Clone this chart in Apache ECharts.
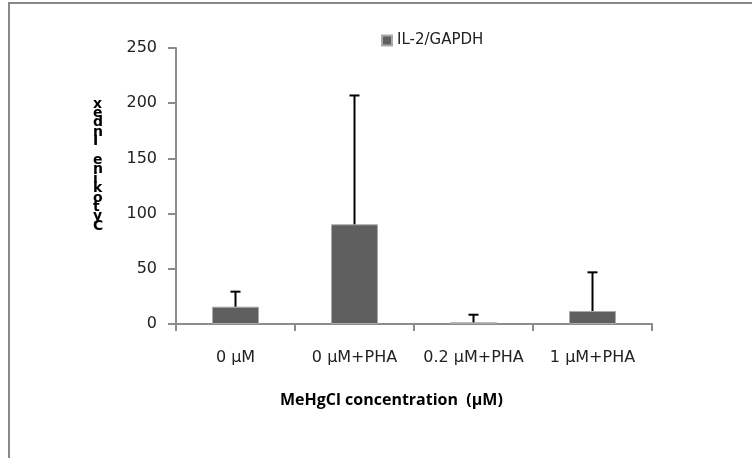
<!DOCTYPE html>
<html lang="en">
<head>
    <meta charset="UTF-8">
    <title>IL-2/GAPDH</title>
    <script src="https://cdn.jsdelivr.net/npm/echarts@6/dist/echarts.min.js"></script>
    <style>
        html, body {margin: 0; padding: 0; background: #fff;}
        #chart {width: 752px; height: 458px;}
    </style>
</head>
<body>
<div id="chart"></div>
<script>
    // data
    var categories = ['0 \u03bcM', '0 \u03bcM+PHA', '0.2 \u03bcM+PHA', '1 \u03bcM+PHA'];
    var il2Values = [15.7, 90.3, 1.5, 11.8];
    var il2Errors = [13.6, 116.7, 6.9, 35];
    var yTicks = {min: 0, max: 250, interval: 50};

    var font = '"DejaVu Sans", "Open Sans", sans-serif';
    var axisGray = '#8c8c8c';

    // error bar data: [index, value, error]
    var errData = [];
    for (var i = 0; i < il2Values.length; i++) {
        errData.push([i, il2Values[i], il2Errors[i]]);
    }

    var chart = echarts.init(document.getElementById('chart'));
    var option = {
        backgroundColor: '#fff',
        animation: false,
        grid: {left: 176, right: 100, top: 48, bottom: 134},
        legend: {
            data: ['IL-2/GAPDH'],
            left: 376, top: 28,
            icon: 'rect', itemWidth: 10, itemHeight: 10, itemGap: 4,
            textStyle: {fontFamily: font, fontSize: 15, color: '#222'}
        },
        xAxis: {
            type: 'category',
            data: categories,
            axisLine: {lineStyle: {color: axisGray, width: 2}},
            axisTick: {show: true, length: 7, lineStyle: {color: axisGray, width: 2}},
            axisLabel: {interval: 0, hideOverlap: false, margin: 26, fontFamily: font, fontSize: 16, color: '#222'}
        },
        yAxis: {
            type: 'value',
            min: yTicks.min, max: yTicks.max, interval: yTicks.interval,
            axisLine: {show: true, lineStyle: {color: axisGray, width: 2}},
            axisTick: {show: true, length: 8, lineStyle: {color: axisGray, width: 2}},
            axisLabel: {margin: 19, fontFamily: font, fontSize: 16, color: '#222'},
            splitLine: {show: false}
        },
        graphic: [
            {
                type: 'rect', silent: true,
                shape: {x: 9, y: 3, width: 800, height: 500},
                style: {fill: 'none', stroke: '#888', lineWidth: 2}
            },
            {
                // y axis name, letters stacked and reversed as in the picture
                type: 'text', left: 93, top: 97,
                style: {
                    text: 'Cytokine Index'.split('').reverse().join('\n'),
                    fontFamily: font, fontSize: 14, fontWeight: 'bold',
                    lineHeight: 9.4, fill: '#000', align: 'center'
                }
            },
            {
                type: 'text', left: 280, top: 392,
                style: {
                    text: 'MeHgCl concentration  (\u03bcM)',
                    fontFamily: '"Open Sans", sans-serif', fontSize: 16, fontWeight: 'bold', fill: '#000'
                }
            }
        ],
        series: [
            {
                name: 'IL-2/GAPDH',
                type: 'bar',
                barWidth: 47,
                itemStyle: {color: '#5f5f5f', borderColor: '#aaaaaa', borderWidth: 1},
                data: il2Values
            },
            {
                name: 'err',
                type: 'custom',
                z: 3,
                data: errData,
                renderItem: function (params, api) {
                    var idx = api.value(0);
                    var v = api.value(1);
                    var e = api.value(2);
                    var p0 = api.coord([idx, v]);
                    var p1 = api.coord([idx, v + e]);
                    var cap = 5;
                    var st = {stroke: '#000', lineWidth: 2};
                    return {
                        type: 'group',
                        children: [
                            {type: 'line', shape: {x1: p0[0], y1: p0[1], x2: p1[0], y2: p1[1]}, style: st},
                            {type: 'line', shape: {x1: p1[0] - cap, y1: p1[1], x2: p1[0] + cap, y2: p1[1]}, style: st}
                        ]
                    };
                }
            }
        ]
    };
    chart.setOption(option);
</script>
</body>
</html>
